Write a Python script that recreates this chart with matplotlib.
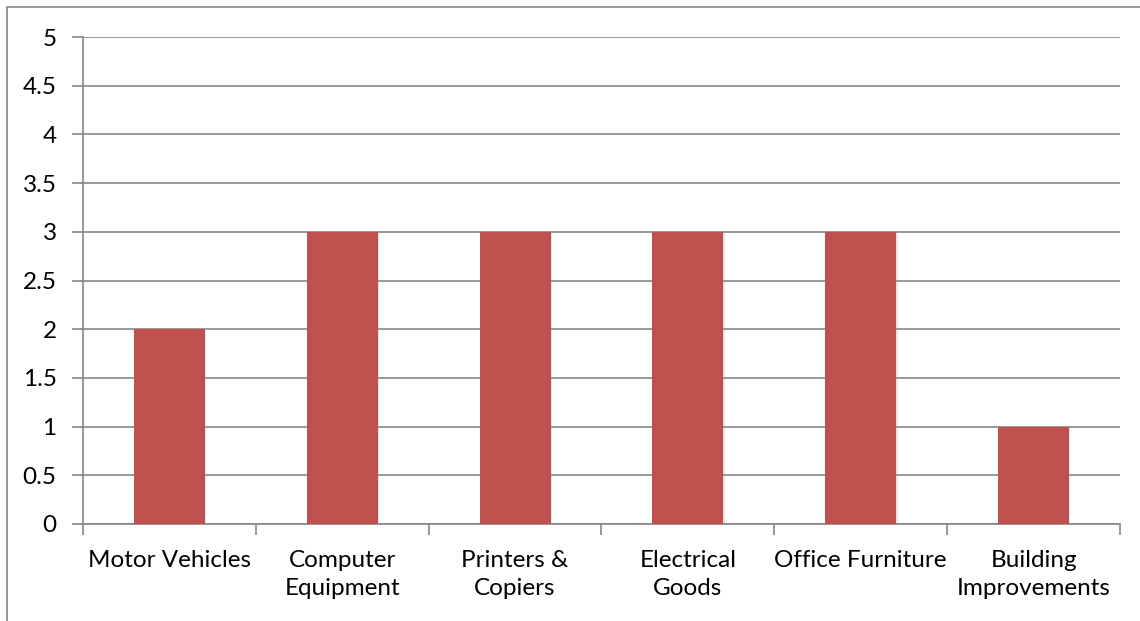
import matplotlib
matplotlib.use('Agg')
import matplotlib.pyplot as plt
from matplotlib.patches import Rectangle
import matplotlib.patheffects as pe

categories = ['Motor Vehicles', 'Computer\nEquipment', 'Printers &\nCopiers',
              'Electrical\nGoods', 'Office Furniture', 'Building\nImprovements']
values = [2, 3, 3, 3, 3, 1]
y_ticks = [0, 0.5, 1, 1.5, 2, 2.5, 3, 3.5, 4, 4.5, 5]
y_labels = ['0', '0.5', '1', '1.5', '2', '2.5', '3', '3.5', '4', '4.5', '5']

W, H = 1140, 621
plt.rcParams['font.family'] = ['Lato', 'DejaVu Sans']
fig = plt.figure(figsize=(W / 100, H / 100), dpi=100)
ax = fig.add_axes([83 / W, 1 - 524 / H, (1120 - 83) / W, (524 - 37) / H])

grid_col = '#868686'
x = list(range(len(categories)))
bars = ax.bar(x, values, width=0.41, color='#C0504D', zorder=3)
for b in bars:
    b.set_path_effects([pe.SimplePatchShadow(offset=(1, -1), shadow_rgbFace='#999999', alpha=0.25),
                        pe.Normal()])

ax.set_xlim(-0.5, len(categories) - 0.5)
ax.set_ylim(0, 5)
ax.set_yticks(y_ticks)
ax.set_yticklabels(y_labels)
ax.yaxis.grid(True, color=grid_col, linewidth=1.2, zorder=0)

# category separators as tick marks on the x axis
ax.set_xticks([i - 0.5 for i in range(len(categories) + 1)], minor=False)
ax.set_xticklabels([])
ax.set_xticks(x, minor=True)
ax.set_xticklabels(categories, minor=True, fontsize=17.5, linespacing=1.38)
ax.tick_params(axis='x', which='major', length=8, width=1.2, color=grid_col, direction='out')
ax.tick_params(axis='x', which='minor', length=0, pad=19)
ax.tick_params(axis='y', length=8, width=1.2, color=grid_col, labelsize=17.5, pad=11)

for s in ['top', 'right']:
    ax.spines[s].set_visible(False)
for s in ['left', 'bottom']:
    ax.spines[s].set_color(grid_col)
    ax.spines[s].set_linewidth(1.2)

# chart-area border
fig.patches.append(Rectangle((7 / W, -0.05), 1.2, 1 - 7 / H + 0.05, transform=fig.transFigure,
                             fill=False, edgecolor=grid_col, linewidth=1.2))

fig.savefig('out.png', dpi=100)
